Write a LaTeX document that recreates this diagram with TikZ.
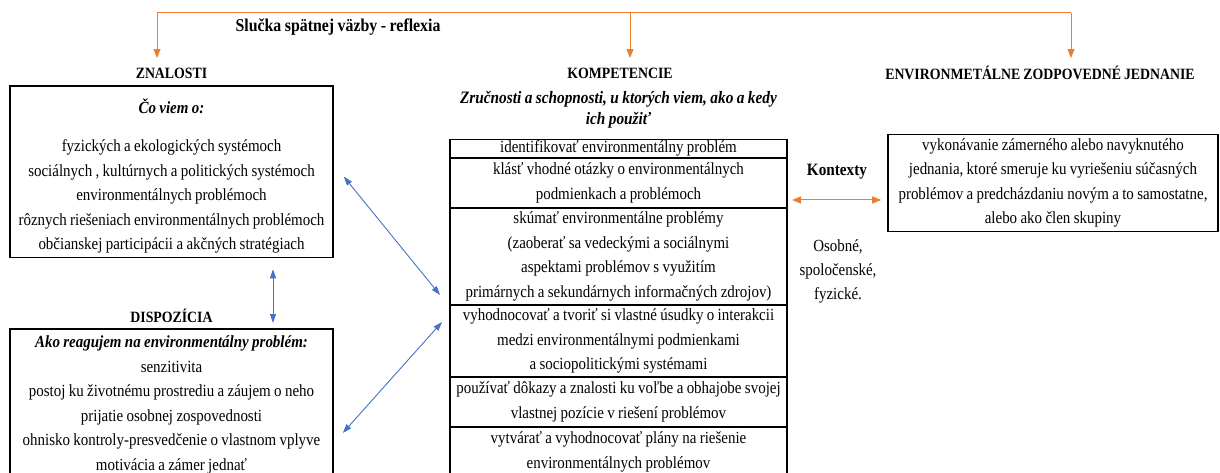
\documentclass[tikz,border=0pt]{standalone}
\usepackage{fontspec}
\setmainfont{Liberation Serif}[FakeStretch = 0.88, WordSpace = 0.9]
\usepackage{tikz}
\usetikzlibrary{arrows.meta,positioning}
\definecolor{looporange}{HTML}{ED7D31}
\definecolor{linkblue}{HTML}{4472C4}

\begin{document}
\begin{tikzpicture}[x = 1pt, y = -1pt, node distance = 0pt]
        \tikzstyle{heading} = [font = \fontsize{15.7}{18}\selectfont\bfseries, inner sep = 1pt]
        \tikzstyle{box} = [rectangle, draw, line width = 1.6pt, align = flush center, font = \fontsize{17}{24.5}\selectfont, text width = 319pt, inner xsep = 2pt, inner ysep = 4pt, anchor = north]
        \tikzstyle{cell} = [rectangle, draw, line width = 1.3pt, align = flush center, font = \fontsize{17}{24.5}\selectfont, text width = 335pt, inner xsep = 1pt, inner ysep = 1pt, outer sep = 0pt]
        \tikzstyle{loopline} = [draw = looporange, line width = 1pt]
        \tikzstyle{looparrow} = [loopline, -{Triangle[length = 9pt, width = 7pt]}, shorten >= 9pt]
        \tikzstyle{kontarrow} = [loopline, {Triangle[length = 9pt, width = 7pt]}-{Triangle[length = 9pt, width = 7pt]}]
        \tikzstyle{linkarrow} = [draw = linkblue, line width = 0.9pt, {Triangle[length = 9pt, width = 6pt]}-{Triangle[length = 9pt, width = 6pt]}]
        \useasboundingbox (0,0) rectangle (1220,473);
        % feedback loop
        \node at (338,27) (loop) [heading, font = \fontsize{18}{20}\selectfont\bfseries] {Slučka spätnej väzby - reflexia};
        \node at (620,73) (hkomp) [heading] {KOMPETENCIE};
        \node at (1040,73) (hjedn) [heading] {ENVIRONMETÁLNE ZODPOVEDNÉ JEDNANIE};
        % knowledge and dispositions
        \node at (171.5,85) (znal) [box] {\rule{0pt}{24pt}\textbf{\textit{Čo viem o:}}\\[13.5pt]
        fyzických a ekologických systémoch\\ sociálnych , kultúrnych a politických systémoch\\
        environmentálnych problémoch\\ rôznych riešeniach environmentálnych problémoch\\
        občianskej participácii a akčných stratégiach};
        \node (hznal) [heading, above = 5pt of znal] {ZNALOSTI};
        \node at (171.5,328) (disp) [box] {\rule{0pt}{15pt}\textbf{\textit{Ako reagujem na environmentálny problém:}}\\
        senzitivita\\ postoj ku životnému prostrediu a záujem o neho\\ prijatie osobnej zospovednosti\\
        ohnisko kontroly-presvedčenie o vlastnom vplyve\\ motivácia a zámer jednať};
        \node (hdisp) [heading, above = 4pt of disp] {DISPOZÍCIA};
        \coordinate (fbleft) at (157,13);
        \coordinate (fbmid) at (630,13);
        \coordinate (fbright) at (1071,13);
        \draw [loopline] (fbleft) -- (fbright);
        \draw [looparrow] (fbleft) -- (fbleft |- hznal.north);
        \draw [looparrow] (fbmid) -- (fbmid |- hznal.north);
        \draw [looparrow] (fbright) -- (fbright |- hznal.north);
        % competences
        \node at (618.5,110) (skills) [align = flush center, font = \fontsize{17.4}{21}\selectfont\bfseries\itshape]
        {Zručnosti a schopnosti, u ktorých viem, ako a kedy\\ ich použiť};
        \node at (618.5,139.5) (r1) [cell, anchor = north, minimum height = 18.5pt, inner ysep = 0pt] {identifikovať environmentálny problém};
        \node (r2) [cell, below = of r1, minimum height = 50pt] {klásť vhodné otázky o environmentálnych\\ podmienkach a problémoch};
        \node (r3) [cell, below = of r2, minimum height = 97pt] {skúmať environmentálne problémy\\ (zaoberať sa vedeckými a sociálnymi\\
        aspektami problémov s využitím\\ primárnych a sekundárnych informačných zdrojov)};
        \node (r4) [cell, below = of r3, minimum height = 72pt] {vyhodnocovať a tvoriť si vlastné úsudky o interakcii\\
        medzi environmentálnymi podmienkami\\ a sociopolitickými systémami};
        \node (r5) [cell, below = of r4, minimum height = 50pt] {\makebox[335pt]{používať dôkazy a znalosti ku voľbe a obhajobe svojej}\\
        vlastnej pozície v riešení problémov};
        \node (r6) [cell, below = of r5, minimum height = 50pt] {vytvárať a vyhodnocovať plány na riešenie\\ environmentálnych problémov};
        % action
        \node at (1053,183) (jedn) [box, anchor = center, text width = 326pt, minimum height = 96pt]
        {vykonávanie zámerného alebo navyknutého\\ jednania, ktoré smeruje ku vyriešeniu súčasných\\
        problémov a predcházdaniu novým a to samostatne,\\ alebo ako člen skupiny};
        \node at (837,172) (kont) [heading, font = \fontsize{17.3}{20}\selectfont\bfseries] {Kontexty};
        \node at (838,271) (kontlist) [align = flush center, font = \fontsize{17}{24}\selectfont] {Osobné,\\ spoločenské,\\ fyzické.};
        \draw [kontarrow, shorten >= 6pt] ([shift = {(5,-8)}]r2.south east) coordinate (kleft) -- (kleft -| jedn.west);
        % links
        \draw [linkarrow] ([shift = {(10,5)}]znal.east) -- ([shift = {(-10,-10)}]r3.south west);
        \draw [linkarrow] ([shift = {(9,105)}]disp.north east) -- ([shift = {(-8,17)}]r4.north west);
        \coordinate (vlink) at ([xshift = 101.5pt]znal.south);
        \draw [linkarrow, shorten <= 11pt, shorten >= 5pt] (vlink) -- (vlink |- disp.north);
    \end{tikzpicture}
\end{document}
